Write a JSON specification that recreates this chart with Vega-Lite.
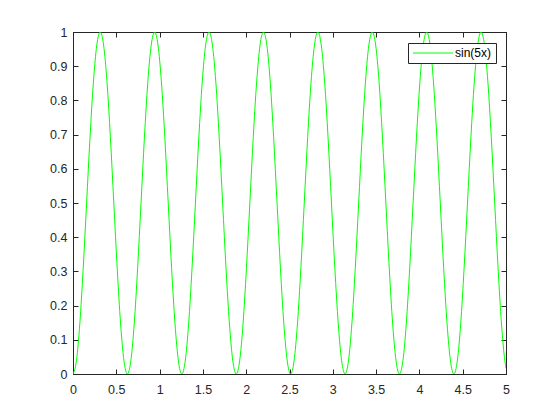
{
"$schema":"https://vega.github.io/schema/vega-lite/v6.json",
"width":433,"height":342,
"autosize":{"type":"none"},
"padding":{"left":73,"top":32,"right":54,"bottom":46},
"background":"white",
"config":{
 "view":{"stroke":"#262626","strokeWidth":1},
 "axis":{"domainColor":"#262626","tickColor":"#262626","tickSize":-5,"labelColor":"#262626","labelFont":"Liberation Sans","labelFontSize":12.5,"grid":false,"title":null,"domainWidth":1,"tickWidth":1,"format":"~g"}
},
"data":{"values":[
{"x":0,"y":0},{"x":0.0393,"y":0.0381},{"x":0.0785,"y":0.1464},{"x":0.1178,"y":0.3087},{"x":0.1571,"y":0.5},{"x":0.1963,"y":0.6913},{"x":0.2356,"y":0.8536},{"x":0.2749,"y":0.9619},
{"x":0.3142,"y":1},{"x":0.3534,"y":0.9619},{"x":0.3927,"y":0.8536},{"x":0.432,"y":0.6913},{"x":0.4712,"y":0.5},{"x":0.5105,"y":0.3087},{"x":0.5498,"y":0.1464},{"x":0.589,"y":0.0381},
{"x":0.6283,"y":0},{"x":0.6676,"y":0.0381},{"x":0.7069,"y":0.1464},{"x":0.7461,"y":0.3087},{"x":0.7854,"y":0.5},{"x":0.8247,"y":0.6913},{"x":0.8639,"y":0.8536},{"x":0.9032,"y":0.9619},
{"x":0.9425,"y":1},{"x":0.9817,"y":0.9619},{"x":1.021,"y":0.8536},{"x":1.0603,"y":0.6913},{"x":1.0996,"y":0.5},{"x":1.1388,"y":0.3087},{"x":1.1781,"y":0.1464},{"x":1.2174,"y":0.0381},
{"x":1.2566,"y":0},{"x":1.2959,"y":0.0381},{"x":1.3352,"y":0.1464},{"x":1.3744,"y":0.3087},{"x":1.4137,"y":0.5},{"x":1.453,"y":0.6913},{"x":1.4923,"y":0.8536},{"x":1.5315,"y":0.9619},
{"x":1.5708,"y":1},{"x":1.6101,"y":0.9619},{"x":1.6493,"y":0.8536},{"x":1.6886,"y":0.6913},{"x":1.7279,"y":0.5},{"x":1.7671,"y":0.3087},{"x":1.8064,"y":0.1464},{"x":1.8457,"y":0.0381},
{"x":1.885,"y":0},{"x":1.9242,"y":0.0381},{"x":1.9635,"y":0.1464},{"x":2.0028,"y":0.3087},{"x":2.042,"y":0.5},{"x":2.0813,"y":0.6913},{"x":2.1206,"y":0.8536},{"x":2.1598,"y":0.9619},
{"x":2.1991,"y":1},{"x":2.2384,"y":0.9619},{"x":2.2777,"y":0.8536},{"x":2.3169,"y":0.6913},{"x":2.3562,"y":0.5},{"x":2.3955,"y":0.3087},{"x":2.4347,"y":0.1464},{"x":2.474,"y":0.0381},
{"x":2.5133,"y":0},{"x":2.5525,"y":0.0381},{"x":2.5918,"y":0.1464},{"x":2.6311,"y":0.3087},{"x":2.6704,"y":0.5},{"x":2.7096,"y":0.6913},{"x":2.7489,"y":0.8536},{"x":2.7882,"y":0.9619},
{"x":2.8274,"y":1},{"x":2.8667,"y":0.9619},{"x":2.906,"y":0.8536},{"x":2.9452,"y":0.6913},{"x":2.9845,"y":0.5},{"x":3.0238,"y":0.3087},{"x":3.0631,"y":0.1464},{"x":3.1023,"y":0.0381},
{"x":3.1416,"y":0},{"x":3.1809,"y":0.0381},{"x":3.2201,"y":0.1464},{"x":3.2594,"y":0.3087},{"x":3.2987,"y":0.5},{"x":3.3379,"y":0.6913},{"x":3.3772,"y":0.8536},{"x":3.4165,"y":0.9619},
{"x":3.4558,"y":1},{"x":3.495,"y":0.9619},{"x":3.5343,"y":0.8536},{"x":3.5736,"y":0.6913},{"x":3.6128,"y":0.5},{"x":3.6521,"y":0.3087},{"x":3.6914,"y":0.1464},{"x":3.7306,"y":0.0381},
{"x":3.7699,"y":0},{"x":3.8092,"y":0.0381},{"x":3.8485,"y":0.1464},{"x":3.8877,"y":0.3087},{"x":3.927,"y":0.5},{"x":3.9663,"y":0.6913},{"x":4.0055,"y":0.8536},{"x":4.0448,"y":0.9619},
{"x":4.0841,"y":1},{"x":4.1233,"y":0.9619},{"x":4.1626,"y":0.8536},{"x":4.2019,"y":0.6913},{"x":4.2412,"y":0.5},{"x":4.2804,"y":0.3087},{"x":4.3197,"y":0.1464},{"x":4.359,"y":0.0381},
{"x":4.3982,"y":0},{"x":4.4375,"y":0.0381},{"x":4.4768,"y":0.1464},{"x":4.516,"y":0.3087},{"x":4.5553,"y":0.5},{"x":4.5946,"y":0.6913},{"x":4.6338,"y":0.8536},{"x":4.6731,"y":0.9619},
{"x":4.7124,"y":1},{"x":4.7517,"y":0.9619},{"x":4.7909,"y":0.8536},{"x":4.8302,"y":0.6913},{"x":4.8695,"y":0.5},{"x":4.9087,"y":0.3087},{"x":4.948,"y":0.1464},{"x":4.9873,"y":0.0381},
{"x":5,"y":0.0176}
]},
"layer":[
 {"mark":{"type":"line","interpolate":"monotone","strokeWidth":1,"clip":true},
  "encoding":{
   "x":{"field":"x","type":"quantitative","scale":{"domain":[0,5],"nice":false,"zero":false},"axis":{"orient":"bottom","values":[0,0.5,1,1.5,2,2.5,3,3.5,4,4.5,5],"labelPadding":14,"labelFlush":false}},
   "y":{"field":"y","type":"quantitative","scale":{"domain":[0,1],"nice":false},"axis":{"orient":"left","values":[0,0.1,0.2,0.3,0.4,0.5,0.6,0.7,0.8,0.9,1],"labelPadding":11,"labelFlush":false}},
   "color":{"datum":"sin(5x)","type":"nominal","scale":{"range":["#00ff00"]},
    "legend":{"orient":"none","legendX":335,"legendY":11,"title":null,"symbolType":"M-1,0H7","symbolSize":100,"symbolStrokeWidth":1,"labelFont":"Liberation Sans","labelFontSize":12,"labelColor":"#000000","labelOffset":31,"padding":4,"strokeColor":"#262626","fillColor":"white","cornerRadius":0}}
  }},
 {"mark":{"type":"line","opacity":0},
  "encoding":{
   "x":{"field":"x","type":"quantitative","scale":{"domain":[0,5],"nice":false,"zero":false},"axis":{"orient":"top","values":[0,0.5,1,1.5,2,2.5,3,3.5,4,4.5,5],"labels":false}},
   "y":{"field":"y","type":"quantitative","scale":{"domain":[0,1],"nice":false},"axis":{"orient":"right","values":[0,0.1,0.2,0.3,0.4,0.5,0.6,0.7,0.8,0.9,1],"labels":false}}
  }}
],
"resolve":{"axis":{"x":"independent","y":"independent"}}
}
